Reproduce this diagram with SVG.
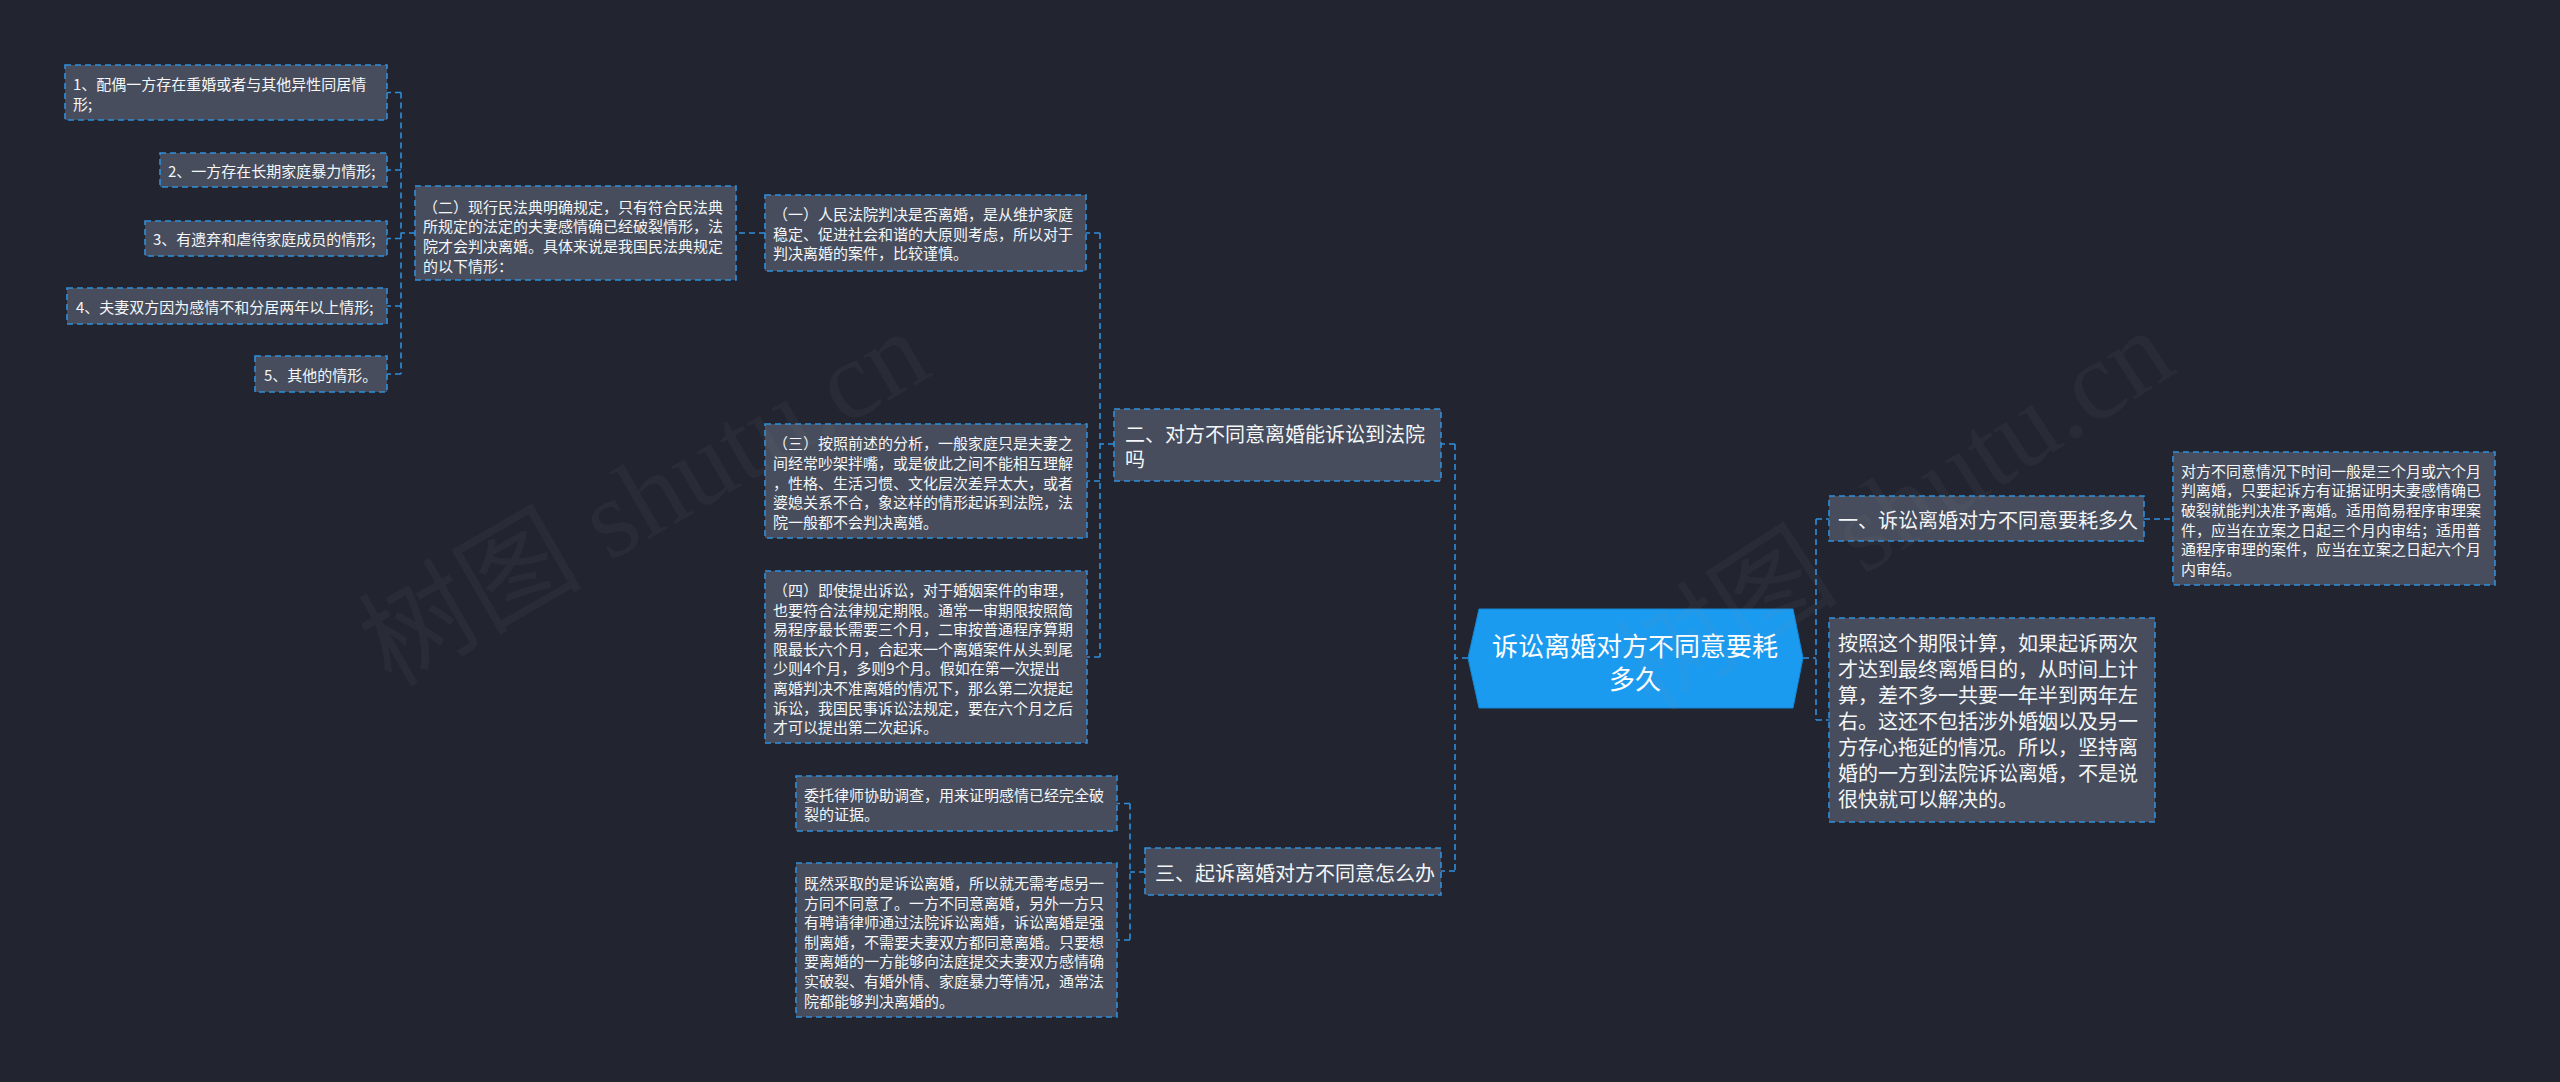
<svg xmlns="http://www.w3.org/2000/svg" width="2560" height="1082" viewBox="0 0 2560 1082">
<style>
.bg{fill:#22252f}
.box{fill:#474d5c;stroke:#2f8edb;stroke-width:1.6;stroke-dasharray:6 4}
.hex{fill:#1b9bef;stroke:#1486d6;stroke-width:1}
.conn{fill:none;stroke:#2f8edb;stroke-width:1.6;stroke-dasharray:6 4}
text{font-family:"Noto Sans CJK SC","Noto Sans",sans-serif;fill:#f4f6f8;dominant-baseline:central}
.t15{font-size:15px}
.t20{font-size:20px}
.t26{font-size:26px;text-anchor:middle;fill:#ffffff}
.wm{font-family:"Liberation Serif","Noto Sans CJK SC",serif;font-size:112px;fill:#8a8f9c;fill-opacity:0.07;text-anchor:middle}
</style>
<rect class="bg" x="0" y="0" width="2560" height="1082"/>

<g id="connectors">
<path class="conn" d="M1468 658 H1455 M1455 444 V871 M1455 444 H1441 M1455 871 H1441"/>
<path class="conn" d="M1114 444 H1100 M1100 233 V657 M1100 233 H1086 M1100 481 H1087 M1100 657 H1087"/>
<path class="conn" d="M765 233 H736"/>
<path class="conn" d="M415 233 H401 M401 92.5 V374 M401 92.5 H387 M401 170 H387 M401 238.5 H387 M401 306 H387 M401 374 H387"/>
<path class="conn" d="M1145 872 H1130 M1130 803.5 V940 M1130 803.5 H1117 M1130 940 H1117"/>
<path class="conn" d="M1803 658 H1816 M1816 519 V720 M1816 519 H1829 M1816 720 H1829"/>
<path class="conn" d="M2144 519 H2173"/>
</g>

<g id="root">
<polygon class="hex" points="1479,609 1793,609 1803,658 1793,708 1479,708 1468,658"/>
<text class="t26" x="1635" y="644">诉讼离婚对方不同意要耗</text>
<text class="t26" x="1635" y="677">多久</text>
</g>

<g id="n-yi">
<rect class="box" x="1829" y="496" width="315" height="45"/>
<text class="t20" x="1838" y="519">一、诉讼离婚对方不同意要耗多久</text>
</g>

<g id="n-yi-detail">
<rect class="box" x="2173" y="452" width="322" height="133"/>
<text class="t15" x="2181" y="470">对方不同意情况下时间一般是三个月或六个月</text>
<text class="t15" x="2181" y="489.7">判离婚，只要起诉方有证据证明夫妻感情确已</text>
<text class="t15" x="2181" y="509.4">破裂就能判决准予离婚。适用简易程序审理案</text>
<text class="t15" x="2181" y="529.1">件，应当在立案之日起三个月内审结；适用普</text>
<text class="t15" x="2181" y="548.8">通程序审理的案件，应当在立案之日起六个月</text>
<text class="t15" x="2181" y="568.5">内审结。</text>
</g>

<g id="n-anzhao">
<rect class="box" x="1829" y="618" width="326" height="204"/>
<text class="t20" x="1838" y="642">按照这个期限计算，如果起诉两次</text>
<text class="t20" x="1838" y="668">才达到最终离婚目的，从时间上计</text>
<text class="t20" x="1838" y="694">算，差不多一共要一年半到两年左</text>
<text class="t20" x="1838" y="720">右。这还不包括涉外婚姻以及另一</text>
<text class="t20" x="1838" y="746">方存心拖延的情况。所以，坚持离</text>
<text class="t20" x="1838" y="772">婚的一方到法院诉讼离婚，不是说</text>
<text class="t20" x="1838" y="798">很快就可以解决的。</text>
</g>

<g id="n-er">
<rect class="box" x="1114" y="409" width="327" height="72"/>
<text class="t20" x="1125" y="433">二、对方不同意离婚能诉讼到法院</text>
<text class="t20" x="1125" y="458">吗</text>
</g>

<g id="n-er-1">
<rect class="box" x="765" y="195" width="321" height="76"/>
<text class="t15" x="773" y="213.5">（一）人民法院判决是否离婚，是从维护家庭</text>
<text class="t15" x="773" y="233.2">稳定、促进社会和谐的大原则考虑，所以对于</text>
<text class="t15" x="773" y="252.9">判决离婚的案件，比较谨慎。</text>
</g>

<g id="n-er-2">
<rect class="box" x="415" y="186" width="321" height="94"/>
<text class="t15" x="423" y="206">（二）现行民法典明确规定，只有符合民法典</text>
<text class="t15" x="423" y="225.7">所规定的法定的夫妻感情确已经破裂情形，法</text>
<text class="t15" x="423" y="245.4">院才会判决离婚。具体来说是我国民法典规定</text>
<text class="t15" x="423" y="265.1">的以下情形：</text>
</g>

<g id="n-item1">
<rect class="box" x="65" y="65" width="322" height="55"/>
<text class="t15" x="73" y="83.5">1、配偶一方存在重婚或者与其他异性同居情</text>
<text class="t15" x="73" y="103">形;</text>
</g>
<g id="n-item2">
<rect class="box" x="160" y="153" width="227" height="34"/>
<text class="t15" x="168" y="170">2、一方存在长期家庭暴力情形;</text>
</g>
<g id="n-item3">
<rect class="box" x="145" y="221" width="242" height="35"/>
<text class="t15" x="153" y="238.5">3、有遗弃和虐待家庭成员的情形;</text>
</g>
<g id="n-item4">
<rect class="box" x="67" y="288" width="320" height="36"/>
<text class="t15" x="76" y="306">4、夫妻双方因为感情不和分居两年以上情形;</text>
</g>
<g id="n-item5">
<rect class="box" x="255" y="356" width="132" height="36"/>
<text class="t15" x="264" y="374">5、其他的情形。</text>
</g>

<g id="n-er-3">
<rect class="box" x="765" y="424" width="322" height="114"/>
<text class="t15" x="773" y="442.5">（三）按照前述的分析，一般家庭只是夫妻之</text>
<text class="t15" x="773" y="462.3">间经常吵架拌嘴，或是彼此之间不能相互理解</text>
<text class="t15" x="773" y="482.1">，性格、生活习惯、文化层次差异太大，或者</text>
<text class="t15" x="773" y="501.9">婆媳关系不合，象这样的情形起诉到法院，法</text>
<text class="t15" x="773" y="521.7">院一般都不会判决离婚。</text>
</g>

<g id="n-er-4">
<rect class="box" x="765" y="571" width="322" height="172"/>
<text class="t15" x="773" y="589.5">（四）即使提出诉讼，对于婚姻案件的审理，</text>
<text class="t15" x="773" y="609.1">也要符合法律规定期限。通常一审期限按照简</text>
<text class="t15" x="773" y="628.7">易程序最长需要三个月，二审按普通程序算期</text>
<text class="t15" x="773" y="648.3">限最长六个月，合起来一个离婚案件从头到尾</text>
<text class="t15" x="773" y="667.9">少则4个月，多则9个月。假如在第一次提出</text>
<text class="t15" x="773" y="687.5">离婚判决不准离婚的情况下，那么第二次提起</text>
<text class="t15" x="773" y="707.1">诉讼，我国民事诉讼法规定，要在六个月之后</text>
<text class="t15" x="773" y="726.7">才可以提出第二次起诉。</text>
</g>

<g id="n-san">
<rect class="box" x="1145" y="848" width="296" height="47"/>
<text class="t20" x="1155" y="872">三、起诉离婚对方不同意怎么办</text>
</g>

<g id="n-san-1">
<rect class="box" x="796" y="776" width="321" height="55"/>
<text class="t15" x="804" y="794">委托律师协助调查，用来证明感情已经完全破</text>
<text class="t15" x="804" y="813.5">裂的证据。</text>
</g>

<g id="n-san-2">
<rect class="box" x="796" y="863" width="321" height="154"/>
<text class="t15" x="804" y="882.5">既然采取的是诉讼离婚，所以就无需考虑另一</text>
<text class="t15" x="804" y="902.1">方同不同意了。一方不同意离婚，另外一方只</text>
<text class="t15" x="804" y="921.7">有聘请律师通过法院诉讼离婚，诉讼离婚是强</text>
<text class="t15" x="804" y="941.3">制离婚，不需要夫妻双方都同意离婚。只要想</text>
<text class="t15" x="804" y="960.9">要离婚的一方能够向法庭提交夫妻双方感情确</text>
<text class="t15" x="804" y="980.5">实破裂、有婚外情、家庭暴力等情况，通常法</text>
<text class="t15" x="804" y="1000.1">院都能够判决离婚的。</text>
</g>

<g id="watermark">
<text class="wm" x="644" y="498" transform="rotate(-30 644 498)">树图 shutu.cn</text>
<text class="wm" x="1895" y="510" transform="rotate(-33 1895 510)">树图 shutu.cn</text>
</g>
</svg>
